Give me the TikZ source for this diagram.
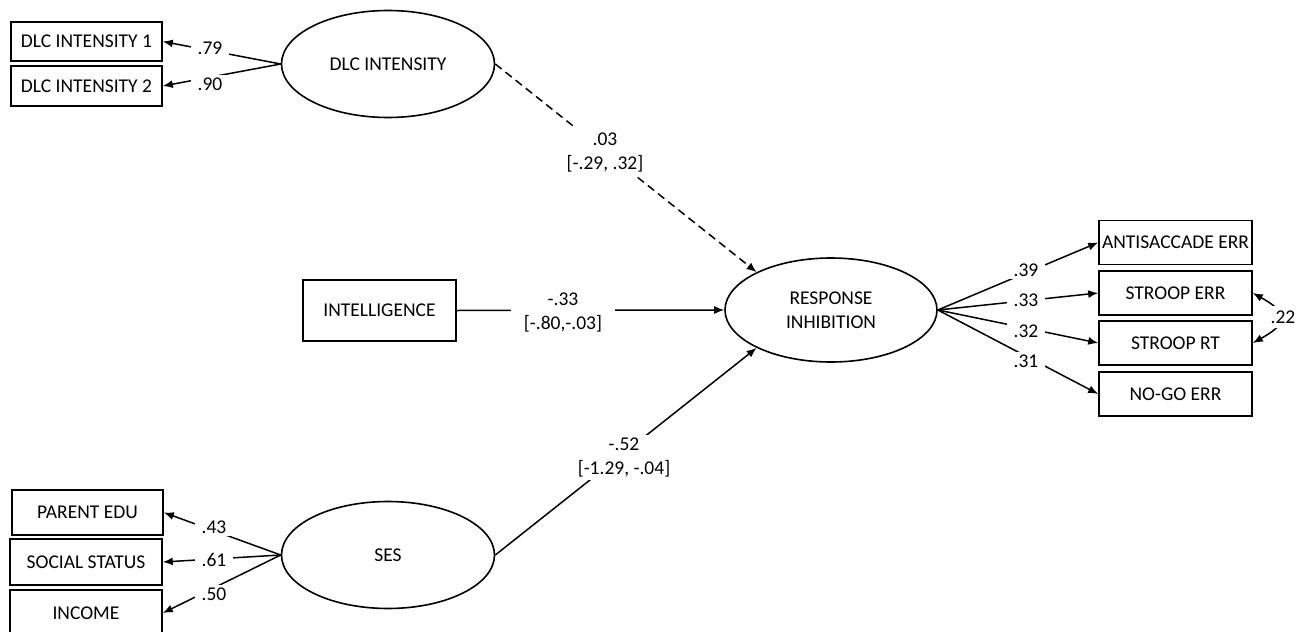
\documentclass[tikz,border=0pt]{standalone}
\usepackage{fontspec}
\setmainfont{Carlito}
\usetikzlibrary{shapes.geometric, arrows.meta}
\begin{document}
\begin{tikzpicture}[x=1pt,y=-1pt,
  every node/.style={font=\fontsize{19.5}{24}\selectfont},
  box/.style={draw, line width=1.6pt, minimum width=151pt, minimum height=44pt, inner sep=0pt},
  lat/.style={draw, ellipse, line width=1.6pt, minimum width=213pt, minimum height=107pt, inner sep=0pt, align=center},
  con/.style={line width=1.5pt, -{Latex[length=10pt,width=8pt]}},
  lbl/.style={fill=white, inner xsep=7pt, inner ysep=3pt},
  est/.style={fill=white, align=center, inner xsep=6pt, inner ysep=4pt}
]
\useasboundingbox (0,0) rectangle (1302,632);
\clip (0,0) rectangle (1302,632);
\fill[white] (0,0) rectangle (1302,632);

% latent variables
\node[lat] (dlc) at (388,64) {DLC INTENSITY};
\node[lat] (ses) at (388,555) {SES};
\node[lat, minimum width=212pt, minimum height=104pt] (ri) at (831,310) {RESPONSE\\INHIBITION};

% indicators left
\node[box, minimum height=39pt] (d1) at (86.5,41.5) {DLC INTENSITY 1};
\node[box, minimum height=40pt] (d2) at (86.5,86) {DLC INTENSITY 2};
\node[box, minimum height=45pt] (pe) at (87.5,512.5) {PARENT EDU};
\node[box, minimum width=152pt, minimum height=46pt] (ss) at (86,562) {SOCIAL STATUS};
\node[box, minimum width=152pt, minimum height=46pt] (inc) at (86,613) {INCOME};

% predictor
\node[box, minimum width=153pt, minimum height=61pt] (intel) at (379.5,310.5) {INTELLIGENCE};

% indicators right
\node[box, minimum width=153pt] (as) at (1175.5,242.5) {ANTISACCADE ERR};
\node[box, minimum width=153pt] (serr) at (1175.5,293) {STROOP ERR};
\node[box, minimum width=153pt] (srt) at (1175.5,343) {STROOP RT};
\node[box, minimum width=153pt] (ng) at (1175.5,394) {NO-GO ERR};

% loadings left
\draw[con] (dlc.west) -- (d1.east);
\draw[con] (dlc.west) -- (d2.east);
\draw[con] (ses.west) -- (pe.east);
\draw[con] (ses.west) -- (ss.east);
\draw[con] (ses.west) -- (inc.east);
\node[lbl] (l79) at (210,48) {.79};
\node[lbl] (l90) at (210,84.5) {.90};
\node[lbl] (l43) at (214,527) {.43};
\node[lbl] (l61) at (214,560) {.61};
\node[lbl] (l50) at (214,594) {.50};

% structural paths
\draw[con, dash pattern=on 8pt off 5pt] (dlc.east) -- (ri.153);
\draw[con] (intel.east) -- (ri.west);
\draw[con] (ses.east) -- (ri.207);
\node[est, inner ysep=5pt] (e1) at (605,152.5) {.03\\{}[-.29, .32]};
\node[est, inner xsep=13pt] (e2) at (563,312) {-.33\\{}[-.80,-.03]};
\node[est, inner ysep=3pt] (e3) at (624,457.5) {-.52\\{}[-1.29, -.04]};

% loadings right
\draw[con] (ri.east) -- (as.west);
\draw[con] (ri.east) -- (serr.west);
\draw[con] (ri.east) -- (srt.west);
\draw[con] (ri.east) -- (ng.west);
\node[lbl] (l39) at (1026,270) {.39};
\node[lbl] (l33) at (1026,300) {.33};
\node[lbl] (l32) at (1026,331) {.32};
\node[lbl] (l31) at (1026,361) {.31};

% residual covariance
\draw[line width=1.5pt, {Latex[length=10pt,width=8pt]}-{Latex[length=10pt,width=8pt]}]
  (serr.east) .. controls +(36,20) and +(36,-20) .. (srt.east);
\node[fill=white, inner xsep=1pt, inner ysep=5pt] (l22) at (1283,317) {.22};
\end{tikzpicture}
\end{document}
